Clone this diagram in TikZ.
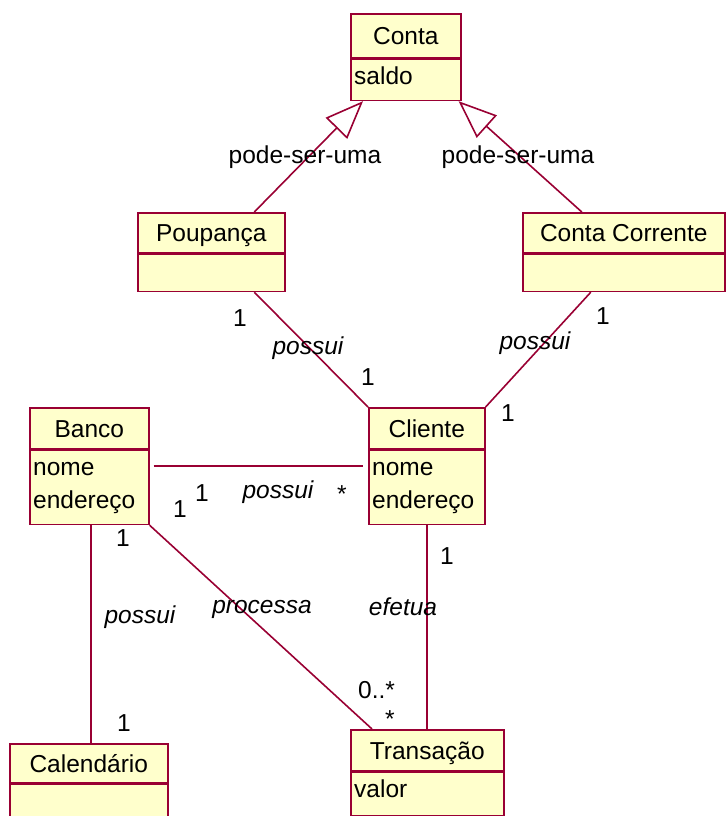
\documentclass[tikz,border=0pt]{standalone}
\usepackage{fontspec}
\setmainfont{Liberation Sans}
\usetikzlibrary{arrows.meta}
\definecolor{roseline}{rgb}{0.6,0,0.2}
\definecolor{rosefill}{rgb}{1,1,0.8}
\newcommand\rosesize{\fontsize{24.5}{33}\selectfont}

\begin{document}
\begin{tikzpicture}[x=1pt, y=-1pt, font=\rosesize,
  cls/.style={draw=roseline, fill=rosefill, line width=1.6pt, inner sep=0pt, anchor=north west, text height=17.6pt, text depth=0pt},
  comp/.style={draw=roseline, fill=rosefill, line width=1.6pt, inner sep=0pt, anchor=north},
  attr/.style={anchor=north west, inner xsep=4pt, inner ysep=3pt, align=left},
  assoc/.style={draw=roseline, line width=1.6pt},
  isa/.style={assoc, -{Triangle[open, length=38pt, width=30pt]}},
  lbl/.style={anchor=base, inner sep=0pt},
  role/.style={lbl, font=\rosesize\itshape}]

\useasboundingbox (0,0) rectangle (726,816);

% classes
\node[cls, minimum width=110pt, minimum height=44pt] (conta) at (350,13) {Conta};
\node[comp, minimum width=110pt, minimum height=41pt] (contaA) at (conta.south) {};
\node[attr] (contaT) at (contaA.north west) {\strut saldo};

\node[cls, minimum width=147pt, minimum height=40pt] (poup) at (137,212) {Poupança};
\node[comp, minimum width=147pt, minimum height=37pt] (poupA) at (poup.south) {};

\node[cls, minimum width=202pt, minimum height=40pt] (cc) at (522,212) {Conta Corrente};
\node[comp, minimum width=202pt, minimum height=37pt] (ccA) at (cc.south) {};

\node[cls, minimum width=119pt, minimum height=41pt] (banco) at (29,407) {Banco};
\node[comp, minimum width=119pt, minimum height=74pt] (bancoA) at (banco.south) {};
\node[attr] (bancoT) at (bancoA.north west) {\strut nome\\endereço};

\node[cls, minimum width=116pt, minimum height=41pt] (cliente) at (368,407) {Cliente};
\node[comp, minimum width=116pt, minimum height=74pt] (clienteA) at (cliente.south) {};
\node[attr] (clienteT) at (clienteA.north west) {\strut nome\\endereço};

\node[cls, minimum width=158pt, minimum height=39pt] (cal) at (9,743) {Calendário};
\node[comp, minimum width=158pt, minimum height=42pt] (calA) at (cal.south) {};

\node[cls, minimum width=153pt, minimum height=41pt] (trans) at (350,729) {Transação};
\node[comp, minimum width=153pt, minimum height=43pt] (transA) at (trans.south) {};
\node[attr] (transT) at (transA.north west) {\strut valor};

% generalisations
\draw[isa] ([xshift=43pt]poup.north) -- ([xshift=13pt]contaA.south west);
\draw[isa] ([xshift=-42pt]cc.north) -- ([xshift=-3pt]contaA.south east);

% associations
\draw[assoc] ([xshift=43pt]poupA.south) -- (cliente.north west);
\draw[assoc] ([xshift=-33pt]ccA.south) -- (cliente.north east);
\draw[assoc] ([xshift=4pt,yshift=-16.5pt]bancoA.north east) -- ([xshift=-5pt,yshift=-16.5pt]clienteA.north west);
\draw[assoc] (bancoA.south east) -- ([xshift=22pt]trans.north west);
\draw[assoc] ([xshift=1.5pt]bancoA.south) -- ([xshift=1.5pt]bancoA.south |- cal.north);
\draw[assoc] (clienteA.south) -- (clienteA.south |- trans.north);

% labels
\node[lbl] (g1) at (305,163) {pode-ser-uma};
\node[lbl] (g2) at (518,163) {pode-ser-uma};

\node[lbl] (m1) at (240,326) {1};
\node[role] (r1) at (308,354) {possui};
\node[lbl] (m2) at (368,385) {1};

\node[lbl] (m3) at (603,324) {1};
\node[role] (r2) at (535,349) {possui};
\node[lbl] (m4) at (508,421) {1};

\node[lbl] (m5) at (202,501) {1};
\node[role] (r3) at (278,498) {possui};
\node[lbl] (m6) at (342,502) {*};

\node[lbl] (m7) at (180,517) {1};
\node[role] (r4) at (262,613) {processa};
\node[lbl, anchor=base west] (m8) at (358,698) {0..*};

\node[lbl] (m9) at (123,546) {1};
\node[role] (r5) at (140,623) {possui};
\node[lbl] (m10) at (124,731) {1};

\node[lbl] (m11) at (447,564) {1};
\node[role] (r6) at (403,615) {efetua};
\node[lbl] (m12) at (390,727) {*};

\end{tikzpicture}
\end{document}
